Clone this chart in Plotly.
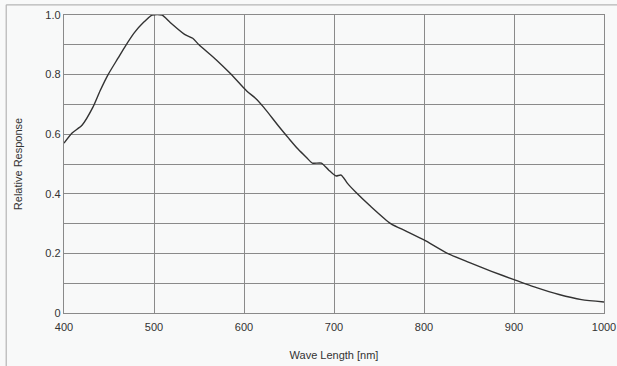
import plotly.graph_objects as go

wavelength = [400, 409, 420, 432, 440, 449, 460, 467, 478, 489, 498, 509, 518, 534, 543,
              550, 569, 586, 603, 613, 622, 639, 650, 660, 670, 676, 686, 694, 702, 708,
              715, 724, 740, 763, 780, 800, 826, 850, 875, 900, 925, 950, 975, 1000]
response = [0.57, 0.604, 0.63, 0.69, 0.745, 0.80, 0.855, 0.89, 0.94, 0.977, 1.0, 1.0, 0.975,
            0.935, 0.922, 0.90, 0.85, 0.80, 0.745, 0.72, 0.69, 0.625, 0.585, 0.55, 0.52,
            0.503, 0.503, 0.48, 0.46, 0.463, 0.435, 0.406, 0.36, 0.30, 0.275, 0.245, 0.20,
            0.17, 0.14, 0.112, 0.085, 0.062, 0.045, 0.037]

x_ticks = [400, 500, 600, 700, 800, 900, 1000]
y_ticks = [0, 0.2, 0.4, 0.6, 0.8, 1.0]
y_ticklabels = ["0", "0.2", "0.4", "0.6", "0.8", "1.0"]

bg = "#f8f9f9"
grid = "#8a8a8a"
font = dict(family="Liberation Sans, Arial, sans-serif", size=11, color="#333333")

fig = go.Figure()
fig.add_trace(go.Scatter(x=wavelength, y=response, mode="lines",
                         line=dict(color="#333333", width=1.4, shape="spline", smoothing=0.6),
                         showlegend=False))

fig.update_layout(
    width=617, height=366,
    margin=dict(l=64, r=13, t=15, b=53),
    paper_bgcolor=bg, plot_bgcolor=bg,
    font=font,
)
fig.update_xaxes(
    range=[400, 1000], tickvals=x_ticks, ticktext=[str(v) for v in x_ticks],
    showgrid=True, gridcolor=grid, gridwidth=1.4,
    showline=True, linecolor=grid, linewidth=1.4, mirror=True,
    ticks="", zeroline=False, ticklabeloverflow="allow", ticklabelstandoff=4,
    automargin=False,
    title=dict(text="Wave Length [nm]", standoff=18, font=font),
)
fig.update_yaxes(
    range=[0, 1.0], tickvals=y_ticks, ticktext=y_ticklabels,
    showgrid=True, gridcolor=grid, gridwidth=1.4,
    minor=dict(dtick=0.1, showgrid=True, gridcolor=grid, gridwidth=1.4),
    showline=True, linecolor=grid, linewidth=1.4, mirror=True,
    ticks="", zeroline=False, automargin=False,
    title=dict(text="Relative Response", standoff=20, font=font),
)

# outer frame lines (top and left edges of the image)
fig.add_shape(type="line", xref="paper", yref="paper", x0=-0.107, x1=1.03, y0=1.034, y1=1.034,
              line=dict(color="#b5b5b5", width=1.2))
fig.add_shape(type="line", xref="paper", yref="paper", x0=-0.107, x1=-0.107, y0=1.034, y1=-0.2,
              line=dict(color="#b5b5b5", width=1.2))

fig.write_html("out.html")
